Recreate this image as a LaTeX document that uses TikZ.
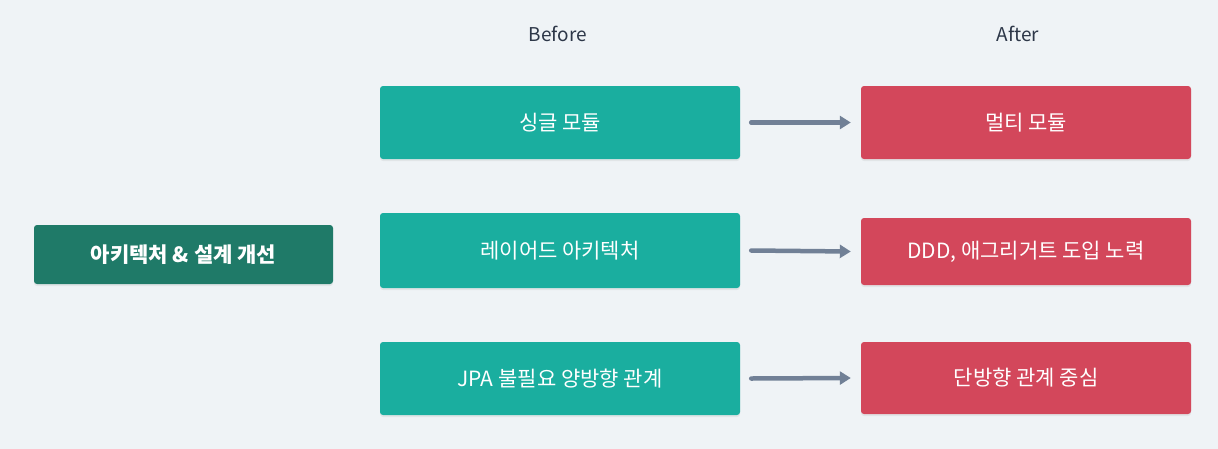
\documentclass[tikz,border=0pt]{standalone}
\usepackage{fontspec}
\setmainfont{Noto Sans CJK KR}
\usetikzlibrary{arrows.meta,shadows}
\definecolor{bg}{HTML}{EFF3F6}
\definecolor{dteal}{HTML}{1F7A68}
\definecolor{teal}{HTML}{1AAE9F}
\definecolor{red}{HTML}{D3475B}
\definecolor{arrowc}{HTML}{718096}
\definecolor{head}{HTML}{2D3748}
\tikzset{
  box/.style={rounded corners=3pt, inner sep=0pt, text=white, font=\fontsize{21}{24}\selectfont,
    drop shadow={opacity=0.12, shadow xshift=0pt, shadow yshift=-2pt}},
  mainbox/.style={box, fill=dteal, minimum width=299pt, minimum height=59pt, font=\fontsize{21}{24}\selectfont\bfseries},
  beforebox/.style={box, fill=teal, minimum width=360pt},
  afterbox/.style={box, fill=red, minimum width=330pt},
  arr/.style={draw=arrowc, line width=4.5pt, line cap=round, -{Triangle[length=11pt,width=13pt]}},
  hdr/.style={text=head, font=\fontsize{19}{22}\selectfont}
}
\begin{document}
\begin{tikzpicture}[x=1pt,y=-1pt]
\useasboundingbox (0,0) rectangle (1218,448);
\fill[bg] (-2,-2) rectangle (1220,450);
\node[hdr] (hb) at (558,34) {Before};
\node[hdr] (ha) at (1018,34) {After};
\node[mainbox] (m) at (183.5,254.5) {아키텍처 \& 설계 개선};
\node[beforebox, minimum height=73pt] (b1) at (560,122.5) {싱글 모듈};
\node[beforebox, minimum height=75pt] (b2) at (560,250.5) {레이어드 아키텍처};
\node[beforebox, minimum height=73pt] (b3) at (560,378.5) {JPA 불필요 양방향 관계};
\node[afterbox, minimum height=73pt] (a1) at (1026,122.5) {멀티 모듈};
\node[afterbox, minimum height=67pt] (a2) at (1026,251.5) {DDD, 애그리거트 도입 노력};
\node[afterbox, minimum height=72pt] (a3) at (1026,378) {단방향 관계 중심};
\draw[arr] ([xshift=11pt]b1.east) -- ([xshift=-10pt]a1.west);
\draw[arr] ([xshift=11pt]b2.east) -- ([xshift=-10pt]a2.west);
\draw[arr] ([xshift=11pt]b3.east) -- ([xshift=-10pt]a3.west);
\end{tikzpicture}
\end{document}
